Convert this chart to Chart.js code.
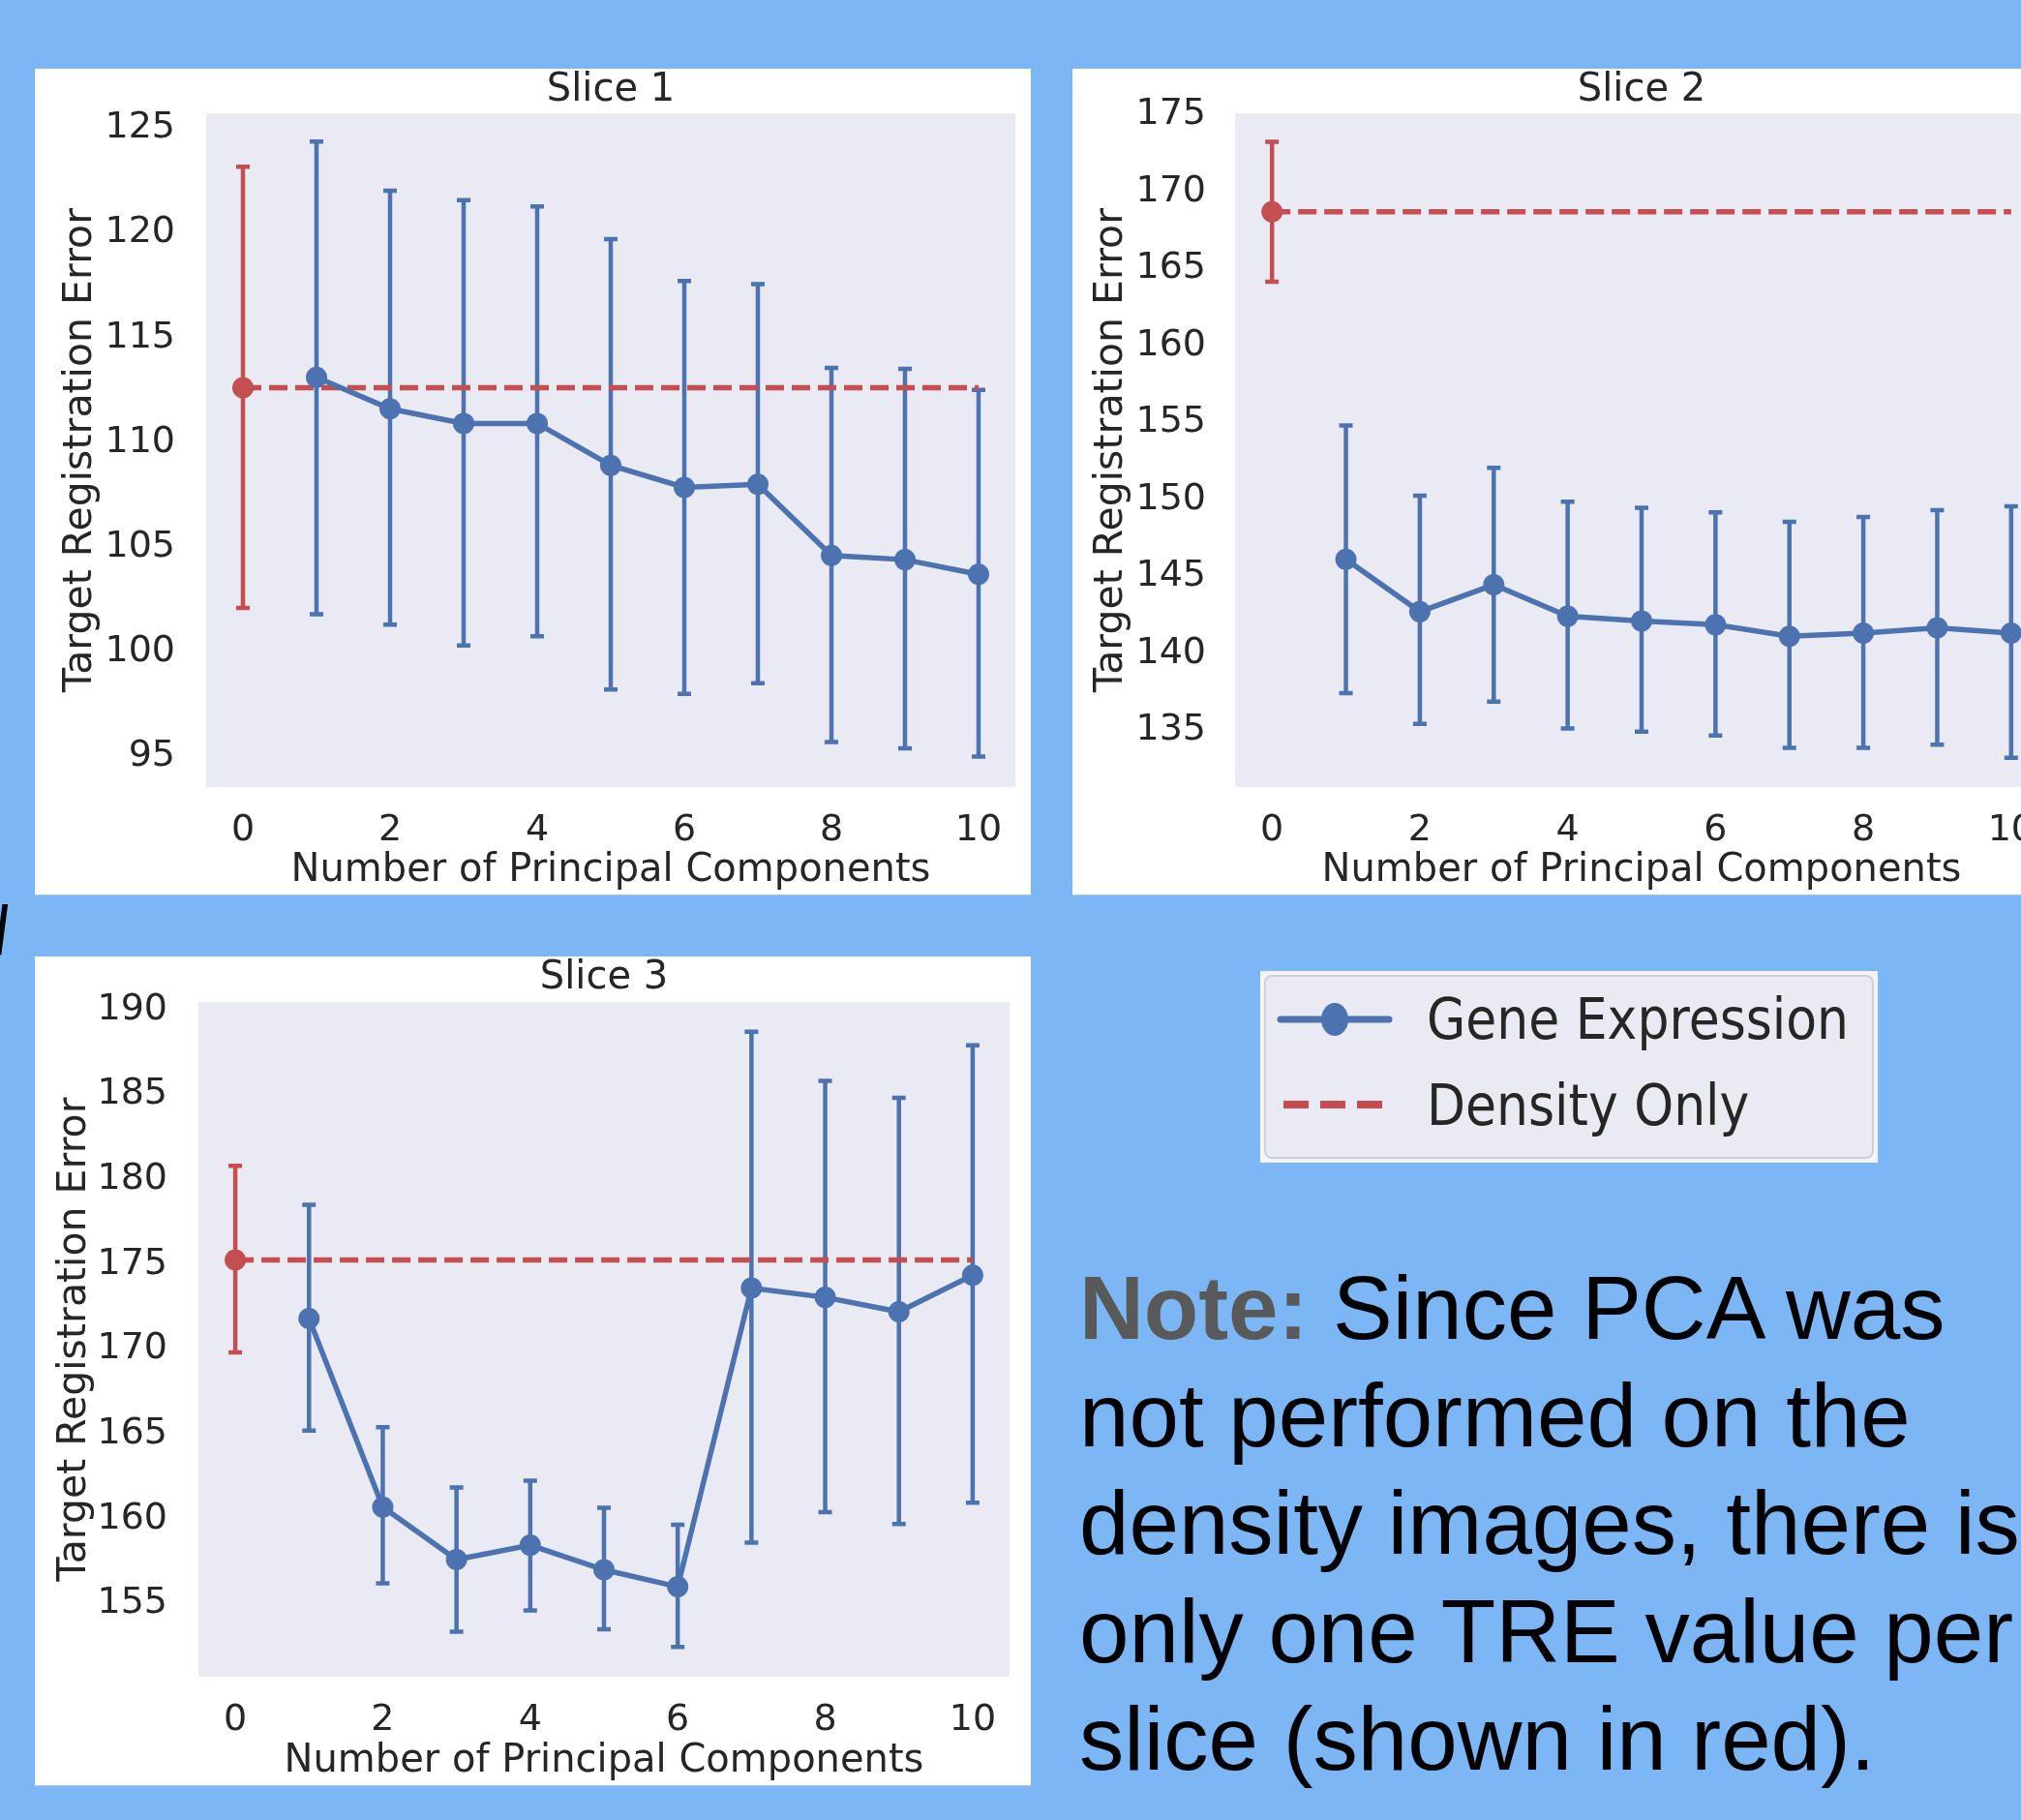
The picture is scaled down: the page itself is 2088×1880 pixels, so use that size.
<!DOCTYPE html>
<html>
<head>
<meta charset="utf-8">
<script src="https://cdn.jsdelivr.net/npm/chart.js@4.4.0/dist/chart.umd.min.js"></script>
<style>
html,body{margin:0;padding:0;width:2088px;height:1880px;overflow:hidden;background:#7DB6F4;position:relative;}
.panel{position:absolute;background:#fff;box-shadow:0 1px 0 #b8c4d0;}
canvas{display:block;}
#legend{position:absolute;left:1302px;top:1003px;width:638px;height:198px;background:#f4f4f8;box-sizing:border-box;padding:4px;}
#legend .inner{position:relative;width:100%;height:100%;box-sizing:border-box;border:2px solid #cfcfd8;border-radius:8px;background:#EAEAF2;}
.ltext{position:absolute;left:166px;font-family:"DejaVu Sans";font-size:52px;color:#262626;white-space:nowrap;transform:scaleY(1.12);transform-origin:left center;line-height:60px;}
#note{position:absolute;left:1115px;top:1296px;font-family:"Liberation Sans",Arial,sans-serif;font-size:92.5px;line-height:111.2px;color:#000;white-space:pre;}
#note b{color:#595959;}
#frag{position:absolute;left:-8px;top:921px;font-family:"Liberation Sans",Arial,sans-serif;font-weight:bold;font-size:70px;color:#000;transform:scaleX(0.7);}
</style>
</head>
<body>

<div class="panel" style="left:36px;top:71px;width:1029px;height:853px;"><canvas id="c1" width="1029" height="853"></canvas></div>
<div class="panel" style="left:1108px;top:71px;width:1029px;height:853px;"><canvas id="c2" width="1029" height="853"></canvas></div>
<div class="panel" style="left:36px;top:988px;width:1029px;height:856px;"><canvas id="c3" width="1029" height="856"></canvas></div>

<div id="frag">/</div>

<div id="legend"><div class="inner">
  <svg style="position:absolute;left:0;top:0" width="160" height="190">
    <line x1="15" y1="44" x2="127" y2="44" stroke="#4C72B0" stroke-width="7" stroke-linecap="round"/>
    <ellipse cx="71" cy="44" rx="14" ry="17" fill="#4C72B0"/>
    <line x1="18" y1="132" x2="122" y2="132" stroke="#C44E52" stroke-width="8" stroke-dasharray="26 12"/>
  </svg>
  <div class="ltext" style="top:14px;">Gene Expression</div>
  <div class="ltext" style="top:103px;">Density Only</div>
</div></div>

<div id="note"><b>Note:</b> Since PCA was
not performed on the
density images, there is
only one TRE value per
slice (shown in red).</div>

<script>
// ---------- data ----------
const pcs = [1, 2, 3, 4, 5, 6, 7, 8, 9, 10];
const densityX = [0, 10];
const xTickValues = [0, 2, 4, 6, 8, 10];
const seriesNames = ["Gene Expression", "Density Only"];
const sliceTitles = ["Slice 1", "Slice 2", "Slice 3"];
const xTitle = "Number of Principal Components";
const yTitle = "Target Registration Error";

const slice1Gene     = [113.1, 111.6, 110.9, 110.9, 108.9, 107.85, 108.0, 104.6, 104.4, 103.7];
const slice1GeneLow  = [101.8, 101.3, 100.3, 100.75, 98.2, 98.0, 98.5, 95.7, 95.4, 95.0];
const slice1GeneHigh = [124.35, 122.0, 121.55, 121.25, 119.7, 117.7, 117.55, 113.55, 113.5, 112.5];
const slice1Density = 112.6, slice1DensityLow = 102.1, slice1DensityHigh = 123.15;
const slice1YTicks = [95, 100, 105, 110, 115, 120, 125];

const slice2Gene     = [146.1, 142.7, 144.45, 142.4, 142.1, 141.85, 141.1, 141.3, 141.65, 141.3];
const slice2GeneLow  = [137.4, 135.4, 136.85, 135.1, 134.9, 134.65, 133.85, 133.85, 134.05, 133.2];
const slice2GeneHigh = [154.8, 150.25, 152.05, 149.85, 149.45, 149.15, 148.55, 148.85, 149.3, 149.55];
const slice2Density = 168.7, slice2DensityLow = 164.15, slice2DensityHigh = 173.25;
const slice2YTicks = [135, 140, 145, 150, 155, 160, 165, 170, 175];

const slice3Gene     = [171.8, 160.7, 157.6, 158.45, 157.0, 156.0, 173.6, 173.05, 172.2, 174.35];
const slice3GeneLow  = [165.2, 156.2, 153.35, 154.6, 153.5, 152.45, 158.6, 160.4, 159.7, 160.95];
const slice3GeneHigh = [178.5, 165.4, 161.85, 162.25, 160.65, 159.65, 188.7, 185.8, 184.8, 187.9];
const slice3Density = 175.25, slice3DensityLow = 169.8, slice3DensityHigh = 180.8;
const slice3YTicks = [155, 160, 165, 170, 175, 180, 185, 190];

// ---------- styling ----------
const BLUE = "#4C72B0", RED = "#C44E52", TEXT = "#262626", PLOT_BG = "#EAEAF2";
const FONT = "DejaVu Sans";

const bgPlugin = {
  id: "plotBg",
  beforeDraw(chart) {
    const a = chart.chartArea, ctx = chart.ctx;
    ctx.save(); ctx.fillStyle = PLOT_BG;
    ctx.fillRect(a.left, a.top, a.right - a.left, a.bottom - a.top);
    ctx.restore();
  }
};

const errPlugin = {
  id: "errBars",
  beforeDatasetsDraw(chart) {
    const ctx = chart.ctx, xs = chart.scales.x, ys = chart.scales.y;
    ctx.save();
    ctx.lineWidth = 4.5;
    ctx.lineCap = "butt";
    const cap = 7;
    chart.data.datasets.forEach(ds => {
      if (!ds.errLow) return;
      ctx.strokeStyle = ds.borderColor;
      ds.data.forEach((pt, i) => {
        if (ds.errLow[i] == null) return;
        const px = xs.getPixelForValue(pt.x);
        const yl = ys.getPixelForValue(ds.errLow[i]);
        const yh = ys.getPixelForValue(ds.errHigh[i]);
        ctx.beginPath();
        ctx.moveTo(px, yl); ctx.lineTo(px, yh);
        ctx.moveTo(px - cap, yl); ctx.lineTo(px + cap, yl);
        ctx.moveTo(px - cap, yh); ctx.lineTo(px + cap, yh);
        ctx.stroke();
      });
    });
    ctx.restore();
  }
};

function zeroPad(s) { s.paddingTop = 0; s.paddingBottom = 0; s.paddingLeft = 0; s.paddingRight = 0; }

function makeChart(id, title, gene, geneLow, geneHigh, dens, densLow, densHigh, yTicks, yMin, yMax, L) {
  const geneData = pcs.map((x, i) => ({ x: x, y: gene[i] }));
  const densData = densityX.map(x => ({ x: x, y: dens }));
  return new Chart(document.getElementById(id), {
    type: "line",
    data: {
      datasets: [
        {
          label: seriesNames[0], data: geneData,
          borderColor: BLUE, backgroundColor: BLUE, borderWidth: 5.5,
          pointRadius: 11, pointHoverRadius: 11, pointBorderWidth: 0,
          errLow: geneLow, errHigh: geneHigh, tension: 0
        },
        {
          label: seriesNames[1], data: densData,
          borderColor: RED, backgroundColor: RED, borderWidth: 5.5, borderDash: [19, 8],
          pointRadius: [11, 0], pointHoverRadius: [11, 0], pointBorderWidth: 0,
          errLow: [densLow, null], errHigh: [densHigh, null], tension: 0
        }
      ]
    },
    options: {
      responsive: false, animation: false, devicePixelRatio: 1,
      layout: { padding: { left: 0, top: 0, right: L.padRight, bottom: 0 } },
      plugins: {
        legend: { display: false },
        tooltip: { enabled: false },
        title: {
          display: true, text: title, fullSize: false, color: TEXT,
          font: { family: FONT, size: 40, weight: "normal", lineHeight: 1 },
          padding: { top: L.titleTop, bottom: L.titleBottom }
        }
      },
      scales: {
        x: {
          type: "linear", min: -0.5, max: 10.5,
          grid: { display: false, drawTicks: false }, border: { display: false },
          afterBuildTicks: s => { s.ticks = xTickValues.map(v => ({ value: v })); },
          afterFit: s => { s.height = L.xAxisH; zeroPad(s); },
          ticks: { color: TEXT, padding: L.xTickPad, font: { family: FONT, size: 38 } },
          title: {
            display: true, text: xTitle, color: TEXT,
            font: { family: FONT, size: 40 }, padding: { top: L.xTitlePad, bottom: 0 }
          }
        },
        y: {
          type: "linear", min: yMin, max: yMax,
          grid: { display: false, drawTicks: false }, border: { display: false },
          afterBuildTicks: s => { s.ticks = yTicks.map(v => ({ value: v })); },
          afterFit: s => { s.width = L.yAxisW; zeroPad(s); },
          ticks: { color: TEXT, padding: L.yTickPad, font: { family: FONT, size: 38 } },
          title: {
            display: true, text: yTitle, color: TEXT,
            font: { family: FONT, size: 41 }, padding: { top: L.yTitlePad, bottom: 0 }
          }
        }
      }
    },
    plugins: [bgPlugin, errPlugin]
  });
}

makeChart("c1", sliceTitles[0], slice1Gene, slice1GeneLow, slice1GeneHigh,
  slice1Density, slice1DensityLow, slice1DensityHigh, slice1YTicks, 93.55, 125.7,
  { padRight: 16, titleTop: 3, titleBottom: 3, xAxisH: 111, xTickPad: 22, xTitlePad: 0, yAxisW: 177, yTickPad: 32, yTitlePad: 23 });

makeChart("c2", sliceTitles[1], slice2Gene, slice2GeneLow, slice2GeneHigh,
  slice2Density, slice2DensityLow, slice2DensityHigh, slice2YTicks, 131.3, 175.1,
  { padRight: 21, titleTop: 3, titleBottom: 3, xAxisH: 111, xTickPad: 22, xTitlePad: 0, yAxisW: 168, yTickPad: 30, yTitlePad: 16 });

makeChart("c3", sliceTitles[2], slice3Gene, slice3GeneLow, slice3GeneHigh,
  slice3Density, slice3DensityLow, slice3DensityHigh, slice3YTicks, 150.7, 190.45,
  { padRight: 22, titleTop: 3, titleBottom: 4, xAxisH: 112, xTickPad: 22, xTitlePad: -1, yAxisW: 169, yTickPad: 32, yTitlePad: 17 });
</script>
</body>
</html>
